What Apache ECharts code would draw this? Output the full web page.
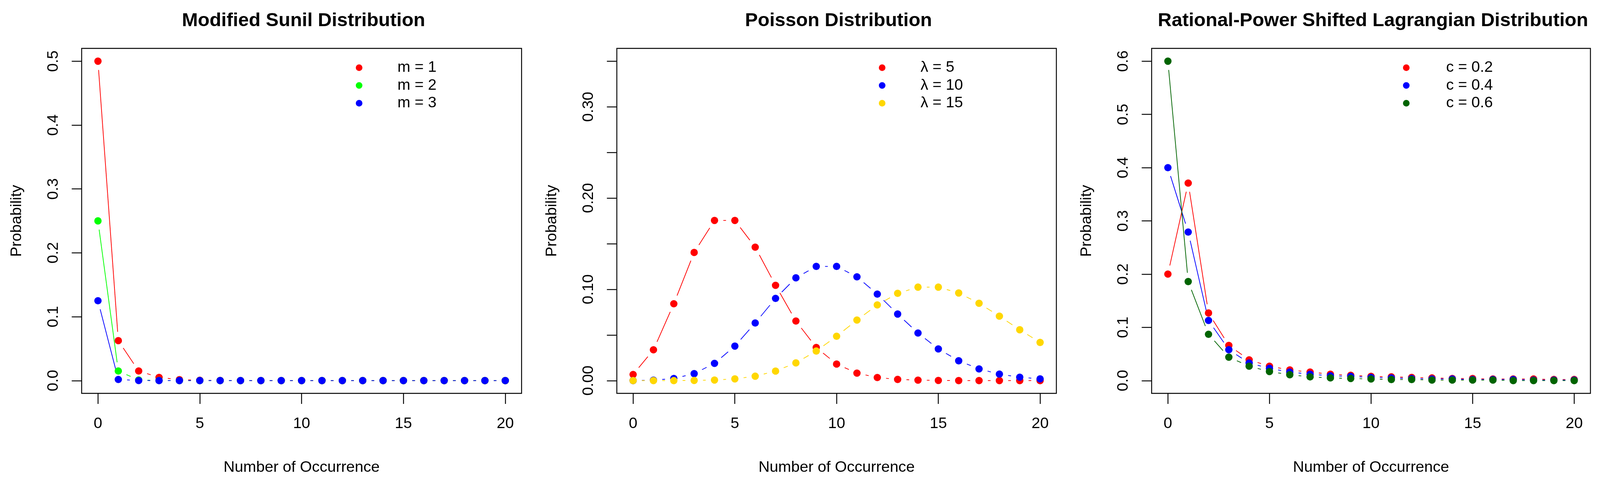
<!DOCTYPE html>
<html>
<head>
<meta charset="utf-8">
<script src="https://cdn.jsdelivr.net/npm/echarts@6/dist/echarts.min.js"></script>
<style>
  html, body { margin: 0; padding: 0; background: #fff; overflow: hidden; }
  #main { width: 100vw; height: 100vh; }
</style>
</head>
<body>
<div id="main"></div>
<script>
// occurrences 0..20
const occurrences = [0, 1, 2, 3, 4, 5, 6, 7, 8, 9, 10, 11, 12, 13, 14, 15, 16, 17, 18, 19, 20];

// Modified Sunil
const sunilM1 = [0.5, 0.0625, 0.015, 0.005, 0.0015, 0.0005, 0.0002, 0.0001, 0, 0, 0, 0, 0, 0, 0, 0, 0, 0, 0, 0, 0];
const sunilM2 = [0.25, 0.015, 0.001, 0.0002, 0, 0, 0, 0, 0, 0, 0, 0, 0, 0, 0, 0, 0, 0, 0, 0, 0];
const sunilM3 = [0.125, 0.0018, 0.0001, 0, 0, 0, 0, 0, 0, 0, 0, 0, 0, 0, 0, 0, 0, 0, 0, 0, 0];

// Poisson
const poisson5 = [0.0067, 0.0337, 0.0842, 0.1404, 0.1755, 0.1755, 0.1462, 0.1044, 0.0653, 0.0363, 0.0181, 0.0082, 0.0034, 0.0013, 0.0005, 0.0002, 0, 0, 0, 0, 0];
const poisson10 = [0, 0.0005, 0.0023, 0.0076, 0.0189, 0.0378, 0.0631, 0.0901, 0.1126, 0.1251, 0.1251, 0.1137, 0.0948, 0.0729, 0.0521, 0.0347, 0.0217, 0.0128, 0.0071, 0.0037, 0.0019];
const poisson15 = [0, 0, 0, 0.0002, 0.0006, 0.0019, 0.0048, 0.0104, 0.0194, 0.0324, 0.0486, 0.0663, 0.0829, 0.0956, 0.1024, 0.1024, 0.096, 0.0847, 0.0706, 0.0557, 0.0418];

// Rational-Power Shifted Lagrangian
const rpslC2 = [0.2, 0.371, 0.127, 0.066, 0.039, 0.027, 0.02, 0.016, 0.012, 0.01, 0.008, 0.007, 0.006, 0.005, 0.004, 0.004, 0.003, 0.003, 0.003, 0.002, 0.002];
const rpslC4 = [0.4, 0.279, 0.113, 0.058, 0.033, 0.023, 0.016, 0.012, 0.009, 0.008, 0.006, 0.005, 0.004, 0.003, 0.003, 0.002, 0.002, 0.002, 0.001, 0.001, 0.001];
const rpslC6 = [0.6, 0.186, 0.087, 0.044, 0.027, 0.017, 0.011, 0.007, 0.005, 0.004, 0.003, 0.002, 0.002, 0.001, 0.001, 0.001, 0.001, 0, 0, 0, 0];

const titles = ['Modified Sunil Distribution', 'Poisson Distribution', 'Rational-Power Shifted Lagrangian Distribution'];
const legendNames = [
  ['m = 1', 'm = 2', 'm = 3'],
  ['λ = 5', 'λ = 10', 'λ = 15'],
  ['c = 0.2', 'c = 0.4', 'c = 0.6']
];
const xTicks = [0, 5, 10, 15, 20];
const yTicks = [
  [0, 0.1, 0.2, 0.3, 0.4, 0.5],
  [0, 0.05, 0.1, 0.15, 0.2, 0.25, 0.3, 0.35],
  [0, 0.1, 0.2, 0.3, 0.4, 0.5, 0.6]
];
const yLabels = [
  [0, 0.1, 0.2, 0.3, 0.4, 0.5],
  [0, 0.1, 0.2, 0.3],
  [0, 0.1, 0.2, 0.3, 0.4, 0.5, 0.6]
];
const yDigits = [1, 2, 1];

const panelData = [
  [sunilM1, sunilM2, sunilM3],
  [poisson5, poisson10, poisson15],
  [rpslC2, rpslC4, rpslC6]
];
const panelColors = [
  ['#ff0000', '#00ff00', '#0000ff'],
  ['#ff0000', '#0000ff', '#ffd700'],
  ['#ff0000', '#0000ff', '#006400']
];

// layout is laid out for 4350x1230 and scaled to the actual window
const el = document.getElementById('main');
const sx = el.clientWidth / 4350, sy = el.clientHeight / 1230, sf = Math.min(sx, sy);
const X = v => v * sx, Y = v => v * sy, F = v => v * sf;

const FONT = 'Liberation Sans, Arial, sans-serif';
const GAP = F(24); // R type="b" gap around points
const boxes = [
  { left: 222, width: 1196, legendLeft: 962, pad: 90 },
  { left: 1677, width: 1195, legendLeft: 2384, pad: 90 },
  { left: 3131, width: 1193, legendLeft: 3809, pad: 94 }
];
const TOP = 124, HEIGHT = 884;

function gapLine(xs, ys, color, idx) {
  const segs = [];
  for (let i = 0; i < xs.length - 1; i++) segs.push([xs[i], ys[i], xs[i + 1], ys[i + 1]]);
  return {
    type: 'custom',
    xAxisIndex: idx, yAxisIndex: idx,
    silent: true,
    data: segs,
    encode: { x: [0, 2], y: [1, 3] },
    renderItem: function (params, api) {
      const a = api.coord([api.value(0), api.value(1)]);
      const b = api.coord([api.value(2), api.value(3)]);
      const dx = b[0] - a[0], dy = b[1] - a[1];
      const d = Math.sqrt(dx * dx + dy * dy);
      if (d <= 2 * GAP) return null;
      const ux = dx / d, uy = dy / d;
      return {
        type: 'line',
        shape: { x1: a[0] + ux * GAP, y1: a[1] + uy * GAP, x2: b[0] - ux * GAP, y2: b[1] - uy * GAP },
        style: { stroke: color, lineWidth: F(2) }
      };
    }
  };
}

const grid = [], xAxis = [], yAxis = [], title = [], legend = [], series = [];

boxes.forEach(function (b, p) {
  grid.push({
    left: X(b.left), top: Y(TOP), width: X(b.width), height: Y(HEIGHT),
    show: true, borderColor: '#000', borderWidth: F(2.5), backgroundColor: 'transparent'
  });
  title.push({
    text: titles[p],
    left: X(b.left + b.width / 2), top: Y(24), textAlign: 'center',
    textStyle: { fontFamily: FONT, fontWeight: 'bold', fontSize: F(52), color: '#000' }
  });
  const ymax = yTicks[p][yTicks[p].length - 1];
  xAxis.push({
    gridIndex: p, type: 'value', min: -0.8, max: 20.8,
    name: 'Number of Occurrence', nameLocation: 'middle', nameGap: Y(170),
    nameTextStyle: { fontFamily: FONT, fontSize: F(42), color: '#000' },
    axisLine: { show: false, onZero: false },
    axisTick: { show: true, customValues: xTicks, length: Y(27), lineStyle: { color: '#000', width: F(2.5) } },
    axisLabel: { customValues: xTicks, fontFamily: FONT, fontSize: F(42), color: '#000', margin: Y(58) },
    splitLine: { show: false }
  });
  yAxis.push({
    gridIndex: p, type: 'value', min: -0.04 * ymax, max: 1.04 * ymax,
    name: 'Probability', nameLocation: 'middle', nameGap: X(155),
    nameTextStyle: { fontFamily: FONT, fontSize: F(42), color: '#000' },
    axisLine: { show: false, onZero: false },
    axisTick: { show: true, customValues: yTicks[p], length: X(27), lineStyle: { color: '#000', width: F(2.5) } },
    axisLabel: {
      customValues: yLabels[p], rotate: 90, fontFamily: FONT, fontSize: F(42), color: '#000', margin: X(55),
      formatter: function (v) { return v.toFixed(yDigits[p]); }
    },
    splitLine: { show: false }
  });
  legend.push({
    orient: 'vertical', left: X(b.legendLeft), top: Y(146),
    itemWidth: F(18), itemHeight: F(18), itemGap: Y(0.5), selectedMode: false,
    data: legendNames[p].map(function (n) { return { name: n, icon: 'circle' }; }),
    textStyle: { fontFamily: FONT, fontSize: F(42), color: '#000', lineHeight: Y(45), padding: [0, 0, 0, X(b.pad)] }
  });
  panelData[p].forEach(function (ys, k) {
    const color = panelColors[p][k];
    series.push(gapLine(occurrences, ys, color, p));
    series.push({
      type: 'scatter', name: legendNames[p][k],
      xAxisIndex: p, yAxisIndex: p,
      symbol: 'circle', symbolSize: F(20),
      itemStyle: { color: color, opacity: 1 },
      data: occurrences.map(function (x, i) { return [x, ys[i]]; })
    });
  });
});

const chart = echarts.init(el);
chart.setOption({
  animation: false,
  backgroundColor: '#fff',
  title: title, grid: grid, xAxis: xAxis, yAxis: yAxis, legend: legend, series: series
});
</script>
</body>
</html>
